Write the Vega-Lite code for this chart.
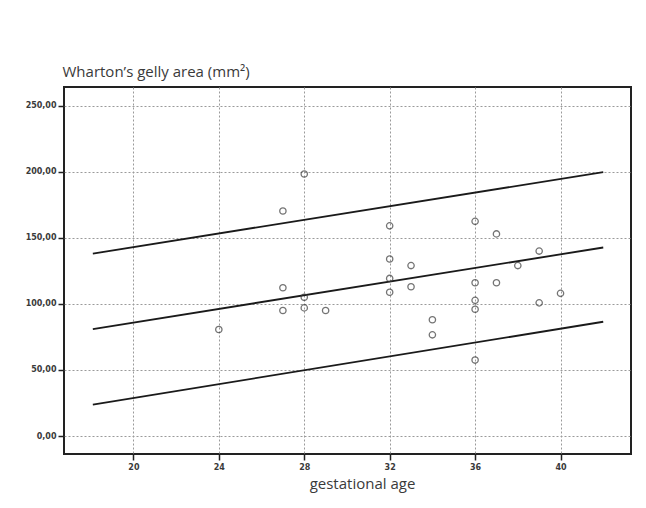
{
  "$schema": "https://vega.github.io/schema/vega-lite/v6.json",
  "autosize": {"type": "none"},
  "padding": {"left": 64, "top": 87, "right": 15, "bottom": 54},
  "width": 567,
  "height": 367,
  "background": "#ffffff",
  "config": {
    "view": {"stroke": "#222222", "strokeWidth": 2},
    "font": "Open Sans"
  },
  "datasets": {
    "points": [
      {"ga": 24, "area": 80.6},
      {"ga": 27, "area": 170.3},
      {"ga": 27, "area": 112.2},
      {"ga": 27, "area": 95},
      {"ga": 28, "area": 198.3},
      {"ga": 28, "area": 105},
      {"ga": 28, "area": 97},
      {"ga": 29, "area": 95},
      {"ga": 32, "area": 159.1},
      {"ga": 32, "area": 134},
      {"ga": 32, "area": 119.3},
      {"ga": 32, "area": 108.8},
      {"ga": 33, "area": 129},
      {"ga": 33, "area": 113},
      {"ga": 34, "area": 88},
      {"ga": 34, "area": 76.6},
      {"ga": 36, "area": 162.5},
      {"ga": 36, "area": 116},
      {"ga": 36, "area": 102.7},
      {"ga": 36, "area": 96},
      {"ga": 36, "area": 57.5},
      {"ga": 37, "area": 153},
      {"ga": 37, "area": 116},
      {"ga": 38, "area": 129},
      {"ga": 39, "area": 140},
      {"ga": 39, "area": 100.8},
      {"ga": 40, "area": 108}
    ],
    "lines": [
      {"band": "upper", "ga": 18.1, "area": 138.1},
      {"band": "upper", "ga": 42.0, "area": 199.8},
      {"band": "fit", "ga": 18.1, "area": 81},
      {"band": "fit", "ga": 42.0, "area": 142.7},
      {"band": "lower", "ga": 18.1, "area": 23.8},
      {"band": "lower", "ga": 42.0, "area": 86.5}
    ]
  },
  "layer": [
    {
      "data": {"name": "lines"},
      "mark": {"type": "line", "color": "#1a1a1a", "strokeWidth": 1.8},
      "encoding": {
        "x": {
          "field": "ga", "type": "quantitative",
          "scale": {"domain": [16.75, 43.3], "nice": false, "zero": false},
          "axis": {
            "values": [20, 24, 28, 32, 36, 40],
            "title": "gestational age",
            "titleFont": "Open Sans", "titleFontSize": 15, "titleFontWeight": "normal",
            "titleColor": "#3a3a3a",
            "titleAlign": "center", "titleBaseline": "alphabetic",
            "titleX": 298, "titleY": 34,
            "labelFont": "DejaVu Sans", "labelFontSize": 8, "labelColor": "#3a3a3a", "labelFontWeight": "bold",
            "labelPadding": 3,
            "domain": false,
            "tickColor": "#222222", "tickSize": 6, "tickWidth": 1.5,
            "grid": true, "gridColor": "#9a9a9a", "gridDash": [2, 2], "gridWidth": 1
          }
        },
        "y": {
          "field": "area", "type": "quantitative",
          "scale": {"domain": [-13.6, 264.2], "nice": false, "zero": false},
          "axis": {
            "values": [0, 50, 100, 150, 200, 250],
            "labelExpr": "replace(format(datum.value, '.2f'), '.', ',')",
            "title": "Wharton’s gelly area (mm²)",
            "titleAngle": 0, "titleAlign": "left", "titleBaseline": "alphabetic",
            "titleX": -2, "titleY": -11,
            "titleFont": "Open Sans", "titleFontSize": 15, "titleFontWeight": "normal",
            "titleColor": "#3a3a3a",
            "labelFont": "DejaVu Sans", "labelFontSize": 8, "labelColor": "#3a3a3a", "labelFontWeight": "bold",
            "labelPadding": 2,
            "domain": false,
            "tickColor": "#222222", "tickSize": 6, "tickWidth": 1.5,
            "grid": true, "gridColor": "#9a9a9a", "gridDash": [2, 2], "gridWidth": 1
          }
        },
        "detail": {"field": "band", "type": "nominal"}
      }
    },
    {
      "data": {"name": "points"},
      "mark": {"type": "point", "shape": "circle", "filled": false, "color": "#3a3a3a", "size": 40, "strokeWidth": 1.3},
      "encoding": {
        "x": {"field": "ga", "type": "quantitative"},
        "y": {"field": "area", "type": "quantitative"}
      }
    }
  ]
}
